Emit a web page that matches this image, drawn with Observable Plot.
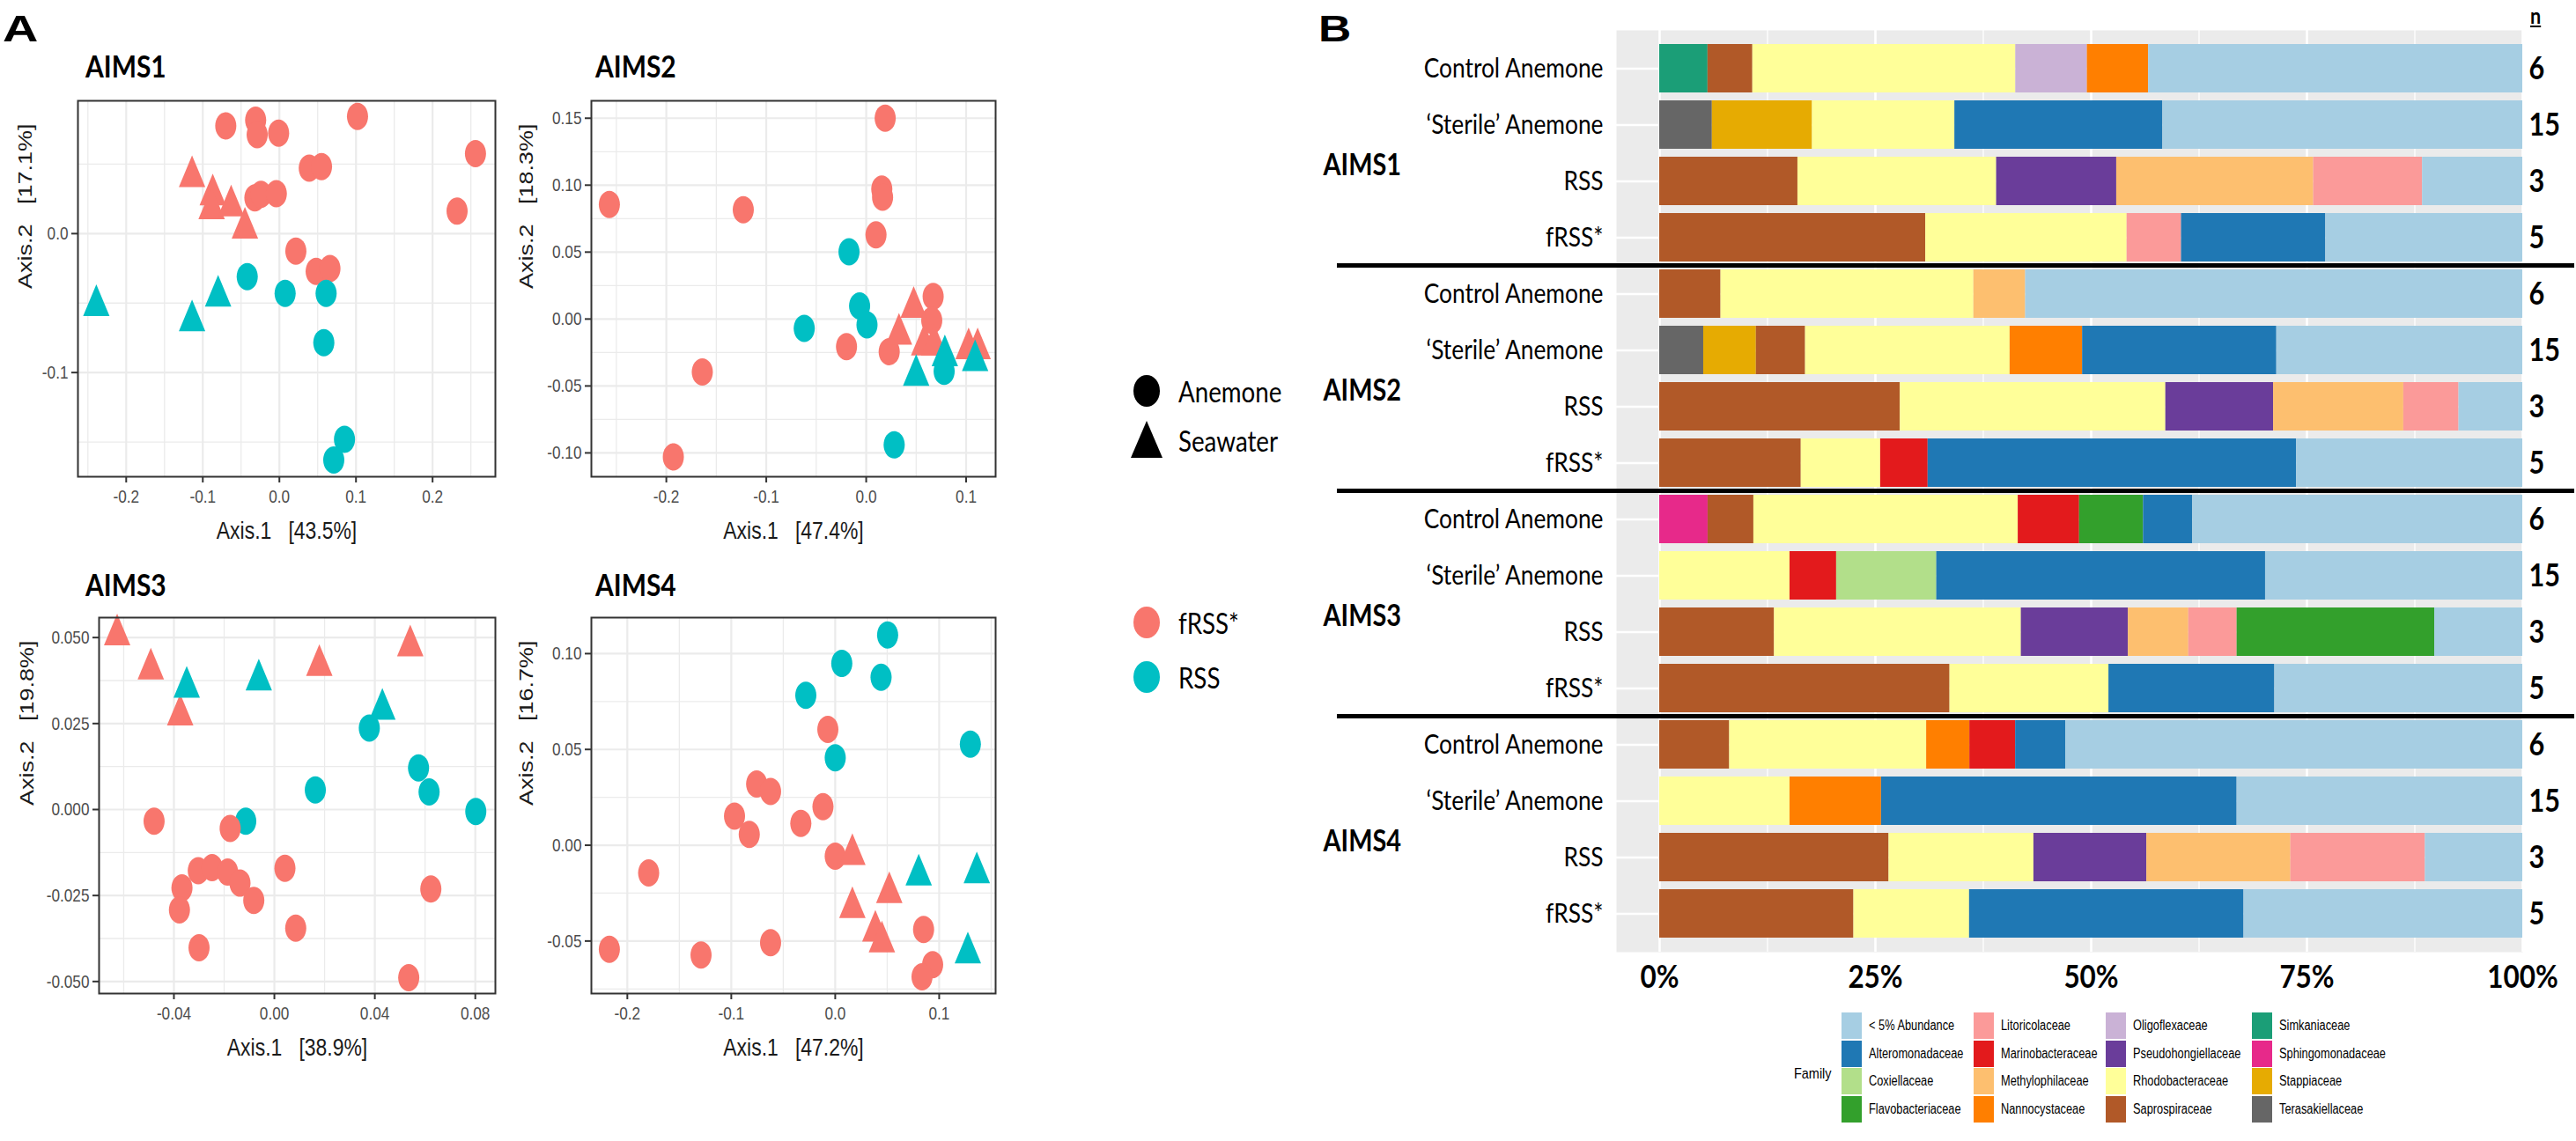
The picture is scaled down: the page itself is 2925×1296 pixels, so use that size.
<!DOCTYPE html>
<html><head><meta charset="utf-8">
<script src="https://cdn.jsdelivr.net/npm/d3@7"></script>
<script src="https://cdn.jsdelivr.net/npm/@observablehq/plot@0.6"></script>
<style>
body{margin:0;background:#fff;}
#root{position:relative;width:2925px;height:1296px;overflow:hidden;background:#fff;}
.abs{position:absolute;white-space:nowrap;line-height:1;}
svg{position:absolute;overflow:visible;}
</style></head><body><div id="root"></div>
<script>
// ---------------- DATA ----------------
const sites = ["AIMS1", "AIMS2", "AIMS3", "AIMS4"];
const axis1Labels = ["Axis.1   [43.5%]", "Axis.1   [47.4%]", "Axis.1   [38.9%]", "Axis.1   [47.2%]"];
const axis2Labels = ["Axis.2   [17.1%]", "Axis.2   [18.3%]", "Axis.2   [19.8%]", "Axis.2   [16.7%]"];
const sources = ["fRSS*", "RSS"];
const sampleTypes = ["Anemone", "Seawater"];
const sourceColors = ["#F8766D", "#00BFC4"];

// [Axis.1, Axis.2, source, sample type]
const aims1Points = [
  [-0.070,0.0775,"fRSS*","Anemone"],[-0.031,0.0817,"fRSS*","Anemone"],[-0.029,0.0712,"fRSS*","Anemone"],[-0.001,0.0723,"fRSS*","Anemone"],
  [0.102,0.0843,"fRSS*","Anemone"],[0.256,0.0576,"fRSS*","Anemone"],[0.232,0.0162,"fRSS*","Anemone"],[0.039,0.0471,"fRSS*","Anemone"],
  [0.055,0.0482,"fRSS*","Anemone"],[-0.032,0.0257,"fRSS*","Anemone"],[-0.024,0.0283,"fRSS*","Anemone"],[-0.004,0.0288,"fRSS*","Anemone"],
  [0.0215,-0.0126,"fRSS*","Anemone"],[0.048,-0.0272,"fRSS*","Anemone"],[0.066,-0.0251,"fRSS*","Anemone"],
  [-0.114,0.043,"fRSS*","Seawater"],[-0.087,0.030,"fRSS*","Seawater"],[-0.0885,0.020,"fRSS*","Seawater"],[-0.063,0.022,"fRSS*","Seawater"],[-0.045,0.006,"fRSS*","Seawater"],
  [-0.042,-0.031,"RSS","Anemone"],[0.0075,-0.043,"RSS","Anemone"],[0.061,-0.043,"RSS","Anemone"],[0.058,-0.0785,"RSS","Anemone"],[0.085,-0.148,"RSS","Anemone"],[0.071,-0.163,"RSS","Anemone"],
  [-0.239,-0.0497,"RSS","Seawater"],[-0.114,-0.0607,"RSS","Seawater"],[-0.080,-0.043,"RSS","Seawater"]
];
const aims2Points = [
  [0.019,0.150,"fRSS*","Anemone"],[0.0156,0.097,"fRSS*","Anemone"],[0.0164,0.091,"fRSS*","Anemone"],[0.0098,0.0628,"fRSS*","Anemone"],
  [-0.257,0.0855,"fRSS*","Anemone"],[-0.123,0.0817,"fRSS*","Anemone"],[-0.164,-0.0395,"fRSS*","Anemone"],[-0.193,-0.103,"fRSS*","Anemone"],
  [-0.0197,-0.0206,"fRSS*","Anemone"],[0.023,-0.0244,"fRSS*","Anemone"],[0.067,0.0168,"fRSS*","Anemone"],[0.0656,-0.001,"fRSS*","Anemone"],
  [0.0475,0.0108,"fRSS*","Seawater"],[0.0328,-0.0092,"fRSS*","Seawater"],[0.058,-0.0173,"fRSS*","Seawater"],[0.068,-0.0173,"fRSS*","Seawater"],[0.1025,-0.020,"fRSS*","Seawater"],[0.1115,-0.020,"fRSS*","Seawater"],
  [-0.0172,0.0503,"RSS","Anemone"],[-0.0066,0.0097,"RSS","Anemone"],[0.0008,-0.0043,"RSS","Anemone"],[-0.062,-0.007,"RSS","Anemone"],[0.078,-0.039,"RSS","Anemone"],[0.028,-0.094,"RSS","Anemone"],
  [0.050,-0.040,"RSS","Seawater"],[0.0787,-0.0254,"RSS","Seawater"],[0.109,-0.029,"RSS","Seawater"]
];
const aims3Points = [
  [-0.0626,0.0516,"fRSS*","Seawater"],[-0.0492,0.0417,"fRSS*","Seawater"],[-0.0375,0.0283,"fRSS*","Seawater"],[0.0179,0.0427,"fRSS*","Seawater"],[0.0541,0.0484,"fRSS*","Seawater"],
  [-0.0349,0.0364,"RSS","Seawater"],[-0.0062,0.0385,"RSS","Seawater"],[0.043,0.030,"RSS","Seawater"],
  [0.0378,0.0237,"RSS","Anemone"],[0.0574,0.0121,"RSS","Anemone"],[0.0616,0.0051,"RSS","Anemone"],[0.0802,-0.0006,"RSS","Anemone"],[0.0163,0.0057,"RSS","Anemone"],[-0.0114,-0.0034,"RSS","Anemone"],
  [-0.0479,-0.0034,"fRSS*","Anemone"],[-0.0176,-0.0055,"fRSS*","Anemone"],[-0.0368,-0.0228,"fRSS*","Anemone"],[-0.0378,-0.0292,"fRSS*","Anemone"],
  [-0.0303,-0.0178,"fRSS*","Anemone"],[-0.0248,-0.0169,"fRSS*","Anemone"],[-0.0186,-0.0182,"fRSS*","Anemone"],[-0.0137,-0.0214,"fRSS*","Anemone"],
  [-0.0082,-0.0264,"fRSS*","Anemone"],[0.0042,-0.0171,"fRSS*","Anemone"],[0.0085,-0.0345,"fRSS*","Anemone"],[-0.030,-0.0402,"fRSS*","Anemone"],
  [0.0623,-0.0231,"fRSS*","Anemone"],[0.0535,-0.0489,"fRSS*","Anemone"]
];
const aims4Points = [
  [0.0504,0.1097,"RSS","Anemone"],[0.0063,0.0949,"RSS","Anemone"],[0.0441,0.0877,"RSS","Anemone"],[-0.0283,0.0782,"RSS","Anemone"],[0.0,0.0456,"RSS","Anemone"],[0.13,0.0528,"RSS","Anemone"],
  [-0.0071,0.0604,"fRSS*","Anemone"],[-0.0756,0.0319,"fRSS*","Anemone"],[-0.0622,0.0281,"fRSS*","Anemone"],[-0.0969,0.0152,"fRSS*","Anemone"],
  [-0.0827,0.0057,"fRSS*","Anemone"],[-0.0331,0.0114,"fRSS*","Anemone"],[-0.0118,0.0201,"fRSS*","Anemone"],[0.0,-0.0057,"fRSS*","Anemone"],
  [-0.1795,-0.0144,"fRSS*","Anemone"],[-0.2173,-0.0543,"fRSS*","Anemone"],[-0.1291,-0.0573,"fRSS*","Anemone"],[-0.0622,-0.0509,"fRSS*","Anemone"],
  [0.085,-0.044,"fRSS*","Anemone"],[0.0937,-0.0623,"fRSS*","Anemone"],[0.0835,-0.0687,"fRSS*","Anemone"],
  [0.0165,-0.0034,"fRSS*","Seawater"],[0.0165,-0.0311,"fRSS*","Seawater"],[0.052,-0.0232,"fRSS*","Seawater"],[0.0386,-0.0433,"fRSS*","Seawater"],[0.0449,-0.049,"fRSS*","Seawater"],
  [0.0803,-0.014,"RSS","Seawater"],[0.1362,-0.0129,"RSS","Seawater"],[0.1276,-0.0547,"RSS","Seawater"]
];
const scatterPoints = [aims1Points, aims2Points, aims3Points, aims4Points];

const xDomains = [[-0.263, 0.282], [-0.275, 0.1295], [-0.0698, 0.088], [-0.2346, 0.1543]];
const yDomains = [[-0.175, 0.0956], [-0.1178, 0.163], [-0.0535, 0.0558], [-0.0774, 0.1188]];
const xTicks = [[-0.2,-0.1,0,0.1,0.2], [-0.2,-0.1,0,0.1], [-0.04,0,0.04,0.08], [-0.2,-0.1,0,0.1]];
const yTicks = [[-0.1,0], [-0.1,-0.05,0,0.05,0.1,0.15], [-0.05,-0.025,0,0.025,0.05], [-0.05,0,0.05,0.1]];
const xMinor = [[-0.25,-0.15,-0.05,0.05,0.15,0.25], [-0.25,-0.15,-0.05,0.05], [-0.06,-0.02,0.02,0.06], [-0.15,-0.05,0.05,0.15]];
const yMinor = [[-0.15,-0.05,0.05], [-0.075,-0.025,0.025,0.075,0.125], [-0.0375,-0.0125,0.0125,0.0375], [-0.075,-0.025,0.025,0.075]];
const xDecimals = [1, 1, 2, 1];
const yDecimals = [1, 2, 3, 2];

// Panel B
const families = ["< 5% Abundance","Alteromonadaceae","Coxiellaceae","Flavobacteriaceae","Litoricolaceae","Marinobacteraceae","Methylophilaceae","Nannocystaceae","Oligoflexaceae","Pseudohongiellaceae","Rhodobacteraceae","Saprospiraceae","Simkaniaceae","Sphingomonadaceae","Stappiaceae","Terasakiellaceae"];
const familyColors = ["#A6CEE3","#1F78B4","#B2DF8A","#33A02C","#FB9A99","#E31A1C","#FDBF6F","#FF7F00","#CAB2D6","#6A3D9A","#FFFF99","#B15928","#1B9E77","#E7298A","#E6AB02","#666666"];
const groups = ["Control Anemone", "\u2018Sterile\u2019 Anemone", "RSS", "fRSS*"];
const groupN = [6, 15, 3, 5];
const percentTicks = [0, 0.25, 0.5, 0.75, 1];
const percentMinor = [0.125, 0.375, 0.625, 0.875];

const compAIMS1 = [
  [["Simkaniaceae",5.6],["Saprospiraceae",5.2],["Rhodobacteraceae",30.5],["Oligoflexaceae",8.3],["Nannocystaceae",7.1],["< 5% Abundance",43.4]],
  [["Terasakiellaceae",6.1],["Stappiaceae",11.6],["Rhodobacteraceae",16.5],["Alteromonadaceae",24.1],["< 5% Abundance",41.7]],
  [["Saprospiraceae",16.0],["Rhodobacteraceae",23.0],["Pseudohongiellaceae",13.9],["Methylophilaceae",22.8],["Litoricolaceae",12.6],["< 5% Abundance",11.6]],
  [["Saprospiraceae",30.8],["Rhodobacteraceae",23.3],["Litoricolaceae",6.3],["Alteromonadaceae",16.7],["< 5% Abundance",22.8]]
];
const compAIMS2 = [
  [["Saprospiraceae",7.1],["Rhodobacteraceae",29.3],["Methylophilaceae",6.0],["< 5% Abundance",57.6]],
  [["Terasakiellaceae",5.1],["Stappiaceae",6.1],["Saprospiraceae",5.7],["Rhodobacteraceae",23.7],["Nannocystaceae",8.4],["Alteromonadaceae",22.5],["< 5% Abundance",28.5]],
  [["Saprospiraceae",27.9],["Rhodobacteraceae",30.8],["Pseudohongiellaceae",12.5],["Methylophilaceae",15.1],["Litoricolaceae",6.4],["< 5% Abundance",7.4]],
  [["Saprospiraceae",16.4],["Rhodobacteraceae",9.2],["Marinobacteraceae",5.5],["Alteromonadaceae",42.7],["< 5% Abundance",26.2]]
];
const compAIMS3 = [
  [["Sphingomonadaceae",5.6],["Saprospiraceae",5.3],["Rhodobacteraceae",30.6],["Marinobacteraceae",7.1],["Flavobacteriaceae",7.4],["Alteromonadaceae",5.7],["< 5% Abundance",38.2]],
  [["Rhodobacteraceae",15.1],["Marinobacteraceae",5.4],["Coxiellaceae",11.6],["Alteromonadaceae",38.1],["< 5% Abundance",29.8]],
  [["Saprospiraceae",13.3],["Rhodobacteraceae",28.6],["Pseudohongiellaceae",12.4],["Methylophilaceae",7.0],["Litoricolaceae",5.6],["Flavobacteriaceae",22.9],["< 5% Abundance",10.2]],
  [["Saprospiraceae",33.6],["Rhodobacteraceae",18.4],["Alteromonadaceae",19.2],["< 5% Abundance",28.7]]
];
const compAIMS4 = [
  [["Saprospiraceae",8.1],["Rhodobacteraceae",22.8],["Nannocystaceae",5.0],["Marinobacteraceae",5.3],["Alteromonadaceae",5.8],["< 5% Abundance",52.9]],
  [["Rhodobacteraceae",15.1],["Nannocystaceae",10.6],["Alteromonadaceae",41.2],["< 5% Abundance",33.1]],
  [["Saprospiraceae",26.6],["Rhodobacteraceae",16.8],["Pseudohongiellaceae",13.1],["Methylophilaceae",16.7],["Litoricolaceae",15.6],["< 5% Abundance",11.3]],
  [["Saprospiraceae",22.5],["Rhodobacteraceae",13.4],["Alteromonadaceae",31.8],["< 5% Abundance",32.3]]
];
const compositions = [compAIMS1, compAIMS2, compAIMS3, compAIMS4];

// ---------------- LAYOUT / STYLE ----------------
const ARIAL = "'Liberation Sans', Arial, sans-serif";
const CAL = "Lato, 'Open Sans', sans-serif";
const root = document.getElementById("root");
const isNum = v => v != null && /^-?[\d.]+(e-?\d+)?$/.test(v.trim());

function squishText(svg, sx) {
  svg.querySelectorAll("text").forEach(t => {
    let tr = t.getAttribute("transform") || "";
    const x = t.getAttribute("x"), y = t.getAttribute("y");
    let tx = 0, ty = 0;
    if (isNum(x)) { tx = +x; t.removeAttribute("x"); }
    if (isNum(y)) { ty = +y; t.removeAttribute("y"); }
    if (tx || ty) tr = `${tr} translate(${tx},${ty})`;
    const rotated = /rotate\(\s*-?(90|270)/.test(tr);
    t.setAttribute("transform", `${tr} ${rotated ? `scale(1,${sx})` : `scale(${sx},1)`}`.trim());
  });
}

function addText(txt, o) {
  const d = document.createElement("div");
  d.className = "abs";
  d.textContent = txt;
  const sx = o.sx ?? 1;
  d.style.fontSize = o.size + "px";
  d.style.fontWeight = o.weight || "normal";
  d.style.fontFamily = o.family || CAL;
  d.style.color = o.color || "#000";
  d.style.left = o.left + "px";
  d.style.top = (o.cy - o.size * 0.5) + "px";
  d.style.transformOrigin = "left center";
  d.style.transform = `scaleX(${sx})`;
  if (o.underline) d.style.textDecoration = "underline";
  root.appendChild(d);
  return d;
}

function ellipseSym(rx, ry) {
  const k = 0.5523;
  return {draw(ctx) {
    ctx.moveTo(rx, 0);
    ctx.bezierCurveTo(rx, ry * k, rx * k, ry, 0, ry);
    ctx.bezierCurveTo(-rx * k, ry, -rx, ry * k, -rx, 0);
    ctx.bezierCurveTo(-rx, -ry * k, -rx * k, -ry, 0, -ry);
    ctx.bezierCurveTo(rx * k, -ry, rx, -ry * k, rx, 0);
    ctx.closePath();
  }};
}
function triSym(w, h) {
  return {draw(ctx) {
    ctx.moveTo(0, -h * 0.58);
    ctx.lineTo(w / 2, h * 0.42);
    ctx.lineTo(-w / 2, h * 0.42);
    ctx.closePath();
  }};
}
const circleMark = ellipseSym(12, 15.5);
const triMark = triSym(30, 36);

// panel letters
addText("A", {left: 3, cy: 32, size: 43, weight: "bold", family: ARIAL, sx: 1.3});
addText("B", {left: 1497, cy: 32, size: 43, weight: "bold", family: ARIAL, sx: 1.2});

// ---------------- PANEL A: ordination scatter plots ----------------
const scatterLayout = [
  {left: 0, top: 110, mL: 88, fw: 474, yOff: 60, tx: 97, tcy: 75},
  {left: 575, top: 110, mL: 96, fw: 459, yOff: 74, tx: 676, tcy: 75},
  {left: 0, top: 697, mL: 112, fw: 450, yOff: 82, tx: 97, tcy: 664},
  {left: 575, top: 697, mL: 96, fw: 459, yOff: 74, tx: 676, tcy: 664}
];
const FH = 427, MT = 4, MB = 90, MR = 8;

sites.forEach((site, i) => {
  const L = scatterLayout[i];
  const pts = scatterPoints[i];
  const fmtX = v => v.toFixed(xDecimals[i]).replace("\u2212", "-");
  const fmtY = v => v.toFixed(yDecimals[i]).replace("\u2212", "-");
  const plot = Plot.plot({
    width: L.mL + L.fw + MR, height: MT + FH + MB,
    marginLeft: L.mL, marginRight: MR, marginTop: MT, marginBottom: MB,
    style: {fontFamily: ARIAL, fontSize: "20px", background: "transparent", overflow: "visible"},
    x: {domain: xDomains[i]},
    y: {domain: yDomains[i]},
    color: {domain: sources, range: sourceColors},
    marks: [
      Plot.gridX({ticks: xMinor[i], stroke: "#ebebeb", strokeOpacity: 1, strokeWidth: 1.3}),
      Plot.gridY({ticks: yMinor[i], stroke: "#ebebeb", strokeOpacity: 1, strokeWidth: 1.3}),
      Plot.gridX({ticks: xTicks[i], stroke: "#ebebeb", strokeOpacity: 1, strokeWidth: 2.2}),
      Plot.gridY({ticks: yTicks[i], stroke: "#ebebeb", strokeOpacity: 1, strokeWidth: 2.2}),
      Plot.dot(pts.filter(d => d[3] === "Anemone"), {x: d => d[0], y: d => d[1], fill: d => d[2], symbol: circleMark, r: 13}),
      Plot.dot(pts.filter(d => d[3] === "Seawater"), {x: d => d[0], y: d => d[1], fill: d => d[2], symbol: triMark, r: 15}),
      Plot.frame({stroke: "#333333", strokeWidth: 2}),
      Plot.axisX({ticks: xTicks[i], tickFormat: fmtX, tickSize: 7, tickPadding: 8, stroke: "#333333", strokeWidth: 2, fill: "#4d4d4d", fontSize: 21, label: null}),
      Plot.axisY({ticks: yTicks[i], tickFormat: fmtY, tickSize: 7, tickPadding: 4, stroke: "#333333", strokeWidth: 2, fill: "#4d4d4d", fontSize: 21, label: null}),
      Plot.text([axis1Labels[i]], {text: d => d.replace(/ /g, "\u00a0"), frameAnchor: "bottom", dy: 62, lineAnchor: "middle", fontSize: 28, fill: "#1a1a1a"}),
      Plot.text([axis2Labels[i]], {text: d => d.replace(/ /g, "\u00a0"), frameAnchor: "left", dx: -L.yOff, rotate: -90, lineAnchor: "middle", fontSize: 27, fill: "#1a1a1a"})
    ]
  });
  plot.style.left = L.left + "px";
  plot.style.top = L.top + "px";
  root.appendChild(plot);
  squishText(plot, 0.82);
  addText(site, {left: L.tx, cy: L.tcy, size: 34, weight: "bold", sx: 0.88});
});

// Panel A legends (shape and colour)
function legendSymbol(shape, color, cx, cy) {
  const s = document.createElementNS("http://www.w3.org/2000/svg", "svg");
  s.setAttribute("width", 50); s.setAttribute("height", 50);
  s.style.left = (cx - 25) + "px"; s.style.top = (cy - 25) + "px";
  const el = document.createElementNS("http://www.w3.org/2000/svg", shape === "Anemone" ? "ellipse" : "polygon");
  if (shape === "Anemone") { el.setAttribute("cx", 25); el.setAttribute("cy", 25); el.setAttribute("rx", 15); el.setAttribute("ry", 18); }
  else el.setAttribute("points", "25,3 43,45 7,45");
  el.setAttribute("fill", color);
  s.appendChild(el);
  root.appendChild(s);
}
const legendX = 1302;
const shapeLegendY = [444, 500];
sampleTypes.forEach((t, k) => { legendSymbol(t, "#000", legendX, shapeLegendY[k]); addText(t, {left: legendX + 36, cy: shapeLegendY[k], size: 33, sx: 0.84}); });
const colorLegendY = [707, 769];
sources.forEach((s, k) => { legendSymbol("Anemone", sourceColors[k], legendX, colorLegendY[k]); addText(s, {left: legendX + 36, cy: colorLegendY[k], size: 33, sx: 0.84}); });

// ---------------- PANEL B: stacked composition bars ----------------
const rowKeys = sites.flatMap(s => groups.map(g => s + "|" + g));
const barRows = [];
sites.forEach((s, i) => compositions[i].forEach((row, j) => row.forEach(([family, value]) => barRows.push({key: s + "|" + groups[j], family, value}))));
const nRows = sites.flatMap(s => groups.map((g, j) => ({key: s + "|" + g, n: String(groupN[j])})));
const siteRows = sites.map(s => ({key: s + "|" + groups[2], site: s}));
const stackOrder = families.slice().reverse();

const barPlot = Plot.plot({
  width: 1465, height: 1140,
  marginLeft: 375, marginRight: 61, marginTop: 34, marginBottom: 59,
  style: {fontFamily: CAL, fontSize: "30px", background: "transparent", overflow: "visible", color: "#000"},
  x: {domain: [-0.05, 1]},
  y: {domain: rowKeys, paddingInner: 0.147, paddingOuter: 0.1735, align: 0.5},
  color: {domain: families, range: familyColors},
  marks: [
    Plot.frame({fill: "#ebebeb", stroke: null}),
    Plot.gridX({ticks: percentMinor, stroke: "#fff", strokeOpacity: 1, strokeWidth: 1.3}),
    Plot.gridX({ticks: percentTicks, stroke: "#fff", strokeOpacity: 1, strokeWidth: 2.6}),
    Plot.gridY({stroke: "#fff", strokeOpacity: 1, strokeWidth: 2.6}),
    Plot.barX(barRows, Plot.stackX({x: "value", y: "key", fill: "family", order: stackOrder, offset: "normalize"})),
    Plot.axisX({ticks: percentTicks, tickFormat: d => Math.round(d * 100) + "%", tickSize: 0, tickPadding: 14, fontSize: 37, fontWeight: "bold", fill: "#000", label: null}),
    Plot.axisY({tickSize: 0, tickPadding: 15, tickFormat: d => d.split("|")[1], fontSize: 31, fill: "#000", label: null}),
    Plot.text(nRows, {y: "key", text: "n", frameAnchor: "right", dx: 7, textAnchor: "start", fontWeight: "bold", fontSize: 36}),
    Plot.text(siteRows, {y: "key", text: "site", frameAnchor: "left", dx: -333, dy: -18, textAnchor: "start", fontWeight: "bold", fontSize: 34})
  ]
});
barPlot.style.left = "1460px";
barPlot.style.top = "0px";
root.appendChild(barPlot);
// group separators, positioned from the band scale
const yS = barPlot.scale("y");
for (let g = 0; g < 3; g++) {
  const a = yS.apply(rowKeys[4 * g + 3]), b = yS.apply(rowKeys[4 * g + 4]);
  const yy = (a + yS.bandwidth + b) / 2;
  d3.select(barPlot).append("line").attr("x1", 58).attr("x2", 1463).attr("y1", yy).attr("y2", yy)
    .attr("stroke", "#000").attr("stroke-width", 5);
}
squishText(barPlot, 0.85);
addText("n", {left: 2873, cy: 18, size: 24, weight: "bold", underline: true, sx: 0.9});

// Panel B legend
addText("Family", {left: 2037, cy: 1219, size: 17, family: ARIAL, sx: 0.85});
const legColX = [2091, 2241, 2391, 2557];
const legRowY = [1150, 1182, 1213, 1245];
families.forEach((f, k) => {
  const c = Math.floor(k / 4), r = k % 4;
  const sw = document.createElement("div");
  sw.className = "abs";
  sw.style.cssText = `left:${legColX[c]}px;top:${legRowY[r]}px;width:23px;height:30px;background:${familyColors[k]};`;
  root.appendChild(sw);
  addText(f, {left: legColX[c] + 31, cy: legRowY[r] + 15, size: 16, family: ARIAL, sx: 0.8});
});
</script></body></html>
